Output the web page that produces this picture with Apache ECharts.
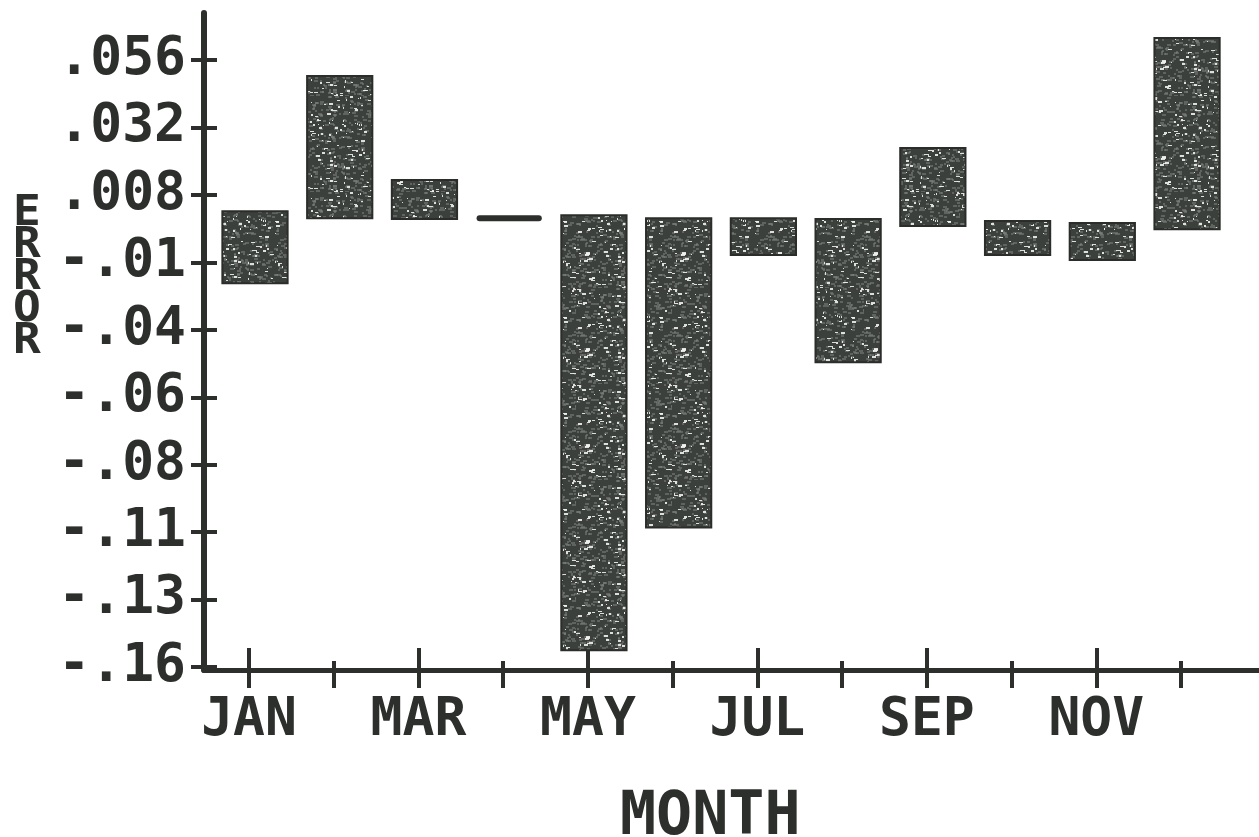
<!DOCTYPE html>
<html>
<head>
<meta charset="utf-8">
<script src="https://cdn.jsdelivr.net/npm/echarts@6/dist/echarts.min.js"></script>
<style>
html,body{margin:0;padding:0;background:#fff;}
#chart{width:1259px;height:837px;}
</style>
</head>
<body>
<div id="chart"></div>
<script>
// ---- data ----
const months = ['JAN','FEB','MAR','APR','MAY','JUN','JUL','AUG','SEP','OCT','NOV','DEC'];
const barLow  = [-0.0234, -0.0003, -0.0006, -0.0003, -0.154, -0.1103, -0.0134, -0.0515, -0.0031, -0.0134, -0.0152, -0.0042];
const barHigh = [ 0.0022,  0.0503,  0.0133, -0.0003,  0.0008, -0.0003, -0.0003, -0.0006,  0.0247, -0.0013, -0.0020,  0.0638];
const yTickValues = [0.056, 0.032, 0.008, -0.016, -0.04, -0.064, -0.088, -0.112, -0.136, -0.16];
const yTickLabels = ['.056', '.032', '.008', '-.01', '-.04', '-.06', '-.08', '-.11', '-.13', '-.16'];
const xTickValues = [1,2,3,4,5,6,7,8,9,10,11,12];
const xLabelValues = [1,3,5,7,9,11];
const xLongTicks = [1,3,5,7,9,11];
const xShortTicks = [2,4,6,8,10,12];

// ---- styling ----
const INK = '#2c2f2c';
const FONT = '"DejaVu Sans Mono", monospace';

function makeTexture() {
  const n = 96;
  const c = document.createElement('canvas');
  c.width = n; c.height = n;
  const g = c.getContext('2d');
  g.fillStyle = '#3c403c';
  g.fillRect(0, 0, n, n);
  let s = 4242;
  const next = () => { s = (s * 16807) % 2147483647; return s / 2147483647; };
  g.fillStyle = 'rgba(125,130,125,0.55)';
  for (let i = 0; i < 420; i++) {
    g.fillRect(Math.floor(next() * n), Math.floor(next() * n), 2 + Math.floor(next() * 3), 2);
  }
  g.fillStyle = 'rgba(240,240,236,0.9)';
  for (let i = 0; i < 170; i++) {
    g.fillRect(Math.floor(next() * n), Math.floor(next() * n), 1 + Math.floor(next() * 4), next() < 0.4 ? 2 : 1);
  }
  return c;
}
const texture = makeTexture();

const barData = months.map((m, i) => [i + 1, barLow[i], barHigh[i]]);

const chart = echarts.init(document.getElementById('chart'), null, {renderer: 'canvas'});

const xCommon = {
  type: 'value', min: 0.469, max: 12.92, position: 'bottom',
  splitLine: {show: false}, minorTick: {show: false}
};
const yCommon = {
  type: 'value', min: -0.161, max: 0.0727, position: 'left',
  splitLine: {show: false}, minorTick: {show: false}
};

chart.setOption({
  animation: false,
  backgroundColor: '#ffffff',
  grid: {left: 204, right: 0, top: 13, bottom: 167, containLabel: false},
  xAxis: [
    Object.assign({}, xCommon, {
      axisLine: {show: true, onZero: false, lineStyle: {color: INK, width: 5}},
      axisTick: {show: true, length: 18, inside: false, customValues: xTickValues, lineStyle: {color: INK, width: 4}},
      axisLabel: {show: true, customValues: xLabelValues, margin: 25, color: INK,
        fontFamily: FONT, fontWeight: 'bold', fontSize: 53,
        formatter: v => months[Math.round(v) - 1]}
    }),
    Object.assign({}, xCommon, {
      axisLine: {show: false, onZero: false},
      axisTick: {show: true, length: 22, inside: true, customValues: xLongTicks, lineStyle: {color: INK, width: 4}},
      axisLabel: {show: false}
    }),
    Object.assign({}, xCommon, {
      axisLine: {show: false, onZero: false},
      axisTick: {show: true, length: 9, inside: true, customValues: xShortTicks, lineStyle: {color: INK, width: 4}},
      axisLabel: {show: false}
    })
  ],
  yAxis: [
    Object.assign({}, yCommon, {
      axisLine: {show: true, onZero: false, lineStyle: {color: INK, width: 6}},
      axisTick: {show: true, length: 13, inside: false, customValues: yTickValues, lineStyle: {color: INK, width: 4}},
      axisLabel: {show: true, customValues: yTickValues, margin: 18, color: INK,
        fontFamily: FONT, fontWeight: 'bold', fontSize: 53,
        formatter: v => {
          const i = yTickValues.findIndex(t => Math.abs(t - v) < 1e-9);
          return i >= 0 ? yTickLabels[i] : '';
        }}
    }),
    Object.assign({}, yCommon, {
      axisLine: {show: false, onZero: false},
      axisTick: {show: true, length: 13, inside: true, customValues: yTickValues, lineStyle: {color: INK, width: 4}},
      axisLabel: {show: false}
    })
  ],
  graphic: [
    {type: 'text', x: 13, y: 198, scaleX: 1.1,
      style: {text: 'E\nR\nR\nO\nR', font: 'bold 42px ' + FONT, fill: INK, lineHeight: 32}},
    {type: 'text', left: 620, top: 788,
      style: {text: 'MONTH', font: 'bold 60px ' + FONT, fill: INK}}
  ],
  series: [{
    type: 'custom',
    xAxisIndex: 0, yAxisIndex: 0,
    data: barData,
    encode: {x: 0, y: [1, 2]},
    renderItem: function (params, api) {
      const x = api.value(0), lo = api.value(1), hi = api.value(2);
      const pTop = api.coord([x, hi]);
      const pBot = api.coord([x, lo]);
      const w = api.size([1, 0])[0] * 0.77;
      const shift = 6;
      let y = pTop[1];
      let h = pBot[1] - pTop[1];
      if (h < 6) {
        y = (pTop[1] + pBot[1]) / 2 - 3;
        h = 6;
        return {type: 'rect',
          shape: {x: pTop[0] - w / 2 + shift, y: y, width: w, height: h, r: 3},
          style: {fill: INK}};
      }
      return {type: 'rect',
        shape: {x: pTop[0] - w / 2 + shift, y: y, width: w, height: h},
        style: {fill: {image: texture, repeat: 'repeat'}, stroke: '#2a2d2a', lineWidth: 2}};
    }
  }]
});
</script>
</body>
</html>
